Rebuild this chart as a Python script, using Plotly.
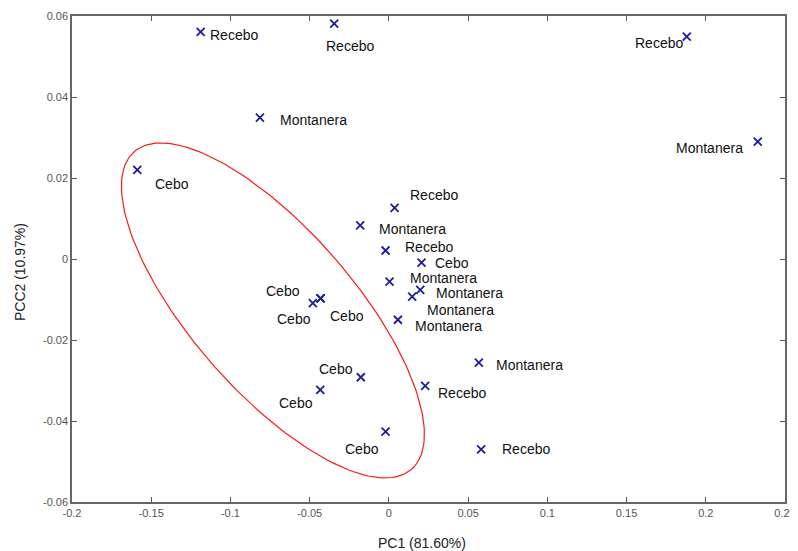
import numpy as np
import plotly.graph_objects as go

# ---- data ----
pc1 = [-0.1188, -0.0345, -0.0814, -0.1588, 0.1880, 0.2328,
       0.0036, -0.0181, -0.0021, 0.0206, 0.0004, 0.0198, 0.0147, 0.0057,
       -0.0431, -0.0480, -0.0431, -0.0177, -0.0433, -0.0021,
       0.0568, 0.0229, 0.0582]
pc2 = [0.0561, 0.0581, 0.0349, 0.0220, 0.0549, 0.0290,
       0.0126, 0.0083, 0.0021, -0.0009, -0.0056, -0.0076, -0.0093, -0.0150,
       -0.0097, -0.0109, -0.0097, -0.0292, -0.0323, -0.0426,
       -0.0256, -0.0313, -0.0470]
labels = ["Recebo", "Recebo", "Montanera", "Cebo", "Recebo", "Montanera",
          "Recebo", "Montanera", "Recebo", "Cebo", "Montanera", "Montanera", "Montanera", "Montanera",
          "Cebo", "Cebo", "Cebo", "Cebo", "Cebo", "Cebo",
          "Montanera", "Recebo", "Recebo"]

x_ticks = [-0.2, -0.15, -0.1, -0.05, 0, 0.05, 0.1, 0.15, 0.2, 0.25]
x_ticktext = ["-0.2", "-0.15", "-0.1", "-0.05", "0", "0.05", "0.1", "0.15", "0.2", "0.25"]
y_ticks = [-0.06, -0.04, -0.02, 0, 0.02, 0.04, 0.06]
y_ticktext = ["-0.06", "-0.04", "-0.02", "0", "0.02", "0.04", "0.06"]
x_title = "PC1 (81.60%)"
y_title = "PCC2 (10.97%)"

# label placement (anchor, x shift px, y shift px)
label_pos = [("left", 7, -3), ("left", -10, -22), ("left", 18, -2), ("left", 16, -14),
             ("right", -2, -6), ("right", -13, -6),
             ("left", 13, 13), ("left", 17, -4), ("left", 17, 4), ("left", 11, 0),
             ("left", 18, 4), ("left", 14, -3), ("left", 13, -13), ("left", 15, -6),
             ("right", -19, 7), ("right", 0, -16), ("left", 7, -18),
             ("right", -6, 8), ("right", -5, -13), ("right", -5, -17),
             ("left", 15, -2), ("left", 11, -7), ("left", 19, 0)]

# confidence ellipse (data-space centre, semi-axes in px, angle)
ell_cx, ell_cy = -0.0732, -0.0127
ell_a_px, ell_b_px, ell_theta_deg = 211.0, 81.0, 48.9
px_per_x = 713.3 / 0.45
px_per_y = 486.6 / 0.12

t = np.linspace(0, 2 * np.pi, 200)
th = np.deg2rad(ell_theta_deg)
dx_px = ell_a_px * np.cos(t) * np.cos(th) - ell_b_px * np.sin(t) * np.sin(th)
dy_px = ell_a_px * np.cos(t) * np.sin(th) + ell_b_px * np.sin(t) * np.cos(th)
ex = ell_cx + dx_px / px_per_x
ey = ell_cy - dy_px / px_per_y

fig = go.Figure()
fig.add_trace(go.Scatter(x=ex, y=ey, mode="lines",
                         line=dict(color="#ff1a1a", width=1.2),
                         hoverinfo="skip", showlegend=False))
fig.add_trace(go.Scatter(x=pc1, y=pc2, mode="markers",
                         marker=dict(symbol="x-thin", size=8,
                                     line=dict(color="#1c1c9c", width=1.8)),
                         showlegend=False))

for xv, yv, lab, (anc, xs, ys) in zip(pc1, pc2, labels, label_pos):
    fig.add_annotation(x=xv, y=yv, text=lab, showarrow=False,
                       xanchor=anc, yanchor="middle", xshift=xs, yshift=ys,
                       font=dict(family="Liberation Sans, Arial", size=14, color="#111111"))

title_font = dict(family="Liberation Sans, Arial", size=14, color="#222222")
fig.add_annotation(xref="paper", yref="paper", x=0.491, y=-0.084, text=x_title,
                   showarrow=False, xanchor="center", yanchor="middle", font=title_font)
fig.add_annotation(xref="paper", yref="paper", x=-0.073, y=0.473, text=y_title,
                   showarrow=False, xanchor="center", yanchor="middle", textangle=-90,
                   font=title_font)

axis_common = dict(showgrid=False, zeroline=False, showline=True, linecolor="#666666",
                   linewidth=1.5, mirror="ticks", ticks="inside", ticklen=5,
                   tickcolor="#555555", tickwidth=1, automargin=False,
                   tickfont=dict(family="Liberation Sans, Arial", size=11, color="#555555"))

fig.update_xaxes(range=[-0.2, 0.25], tickvals=x_ticks, ticktext=x_ticktext, **axis_common)
fig.update_yaxes(range=[-0.06, 0.06], tickvals=y_ticks, ticktext=y_ticktext, **axis_common)

# page body adds an 8px offset, so the figure is sized to fit the window
fig.update_layout(width=790, height=543, margin=dict(l=64, r=13, t=8, b=49),
                  plot_bgcolor="white", paper_bgcolor="white")

fig.write_html("out.html")
